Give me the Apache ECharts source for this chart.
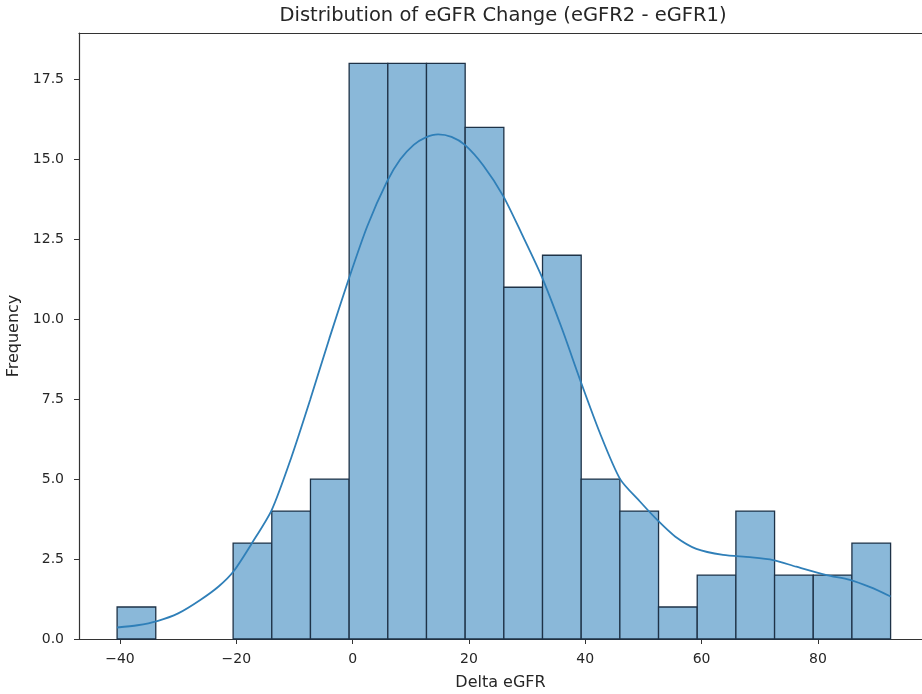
<!DOCTYPE html>
<html>
<head>
<meta charset="utf-8">
<title>Distribution of eGFR Change</title>
<script src="https://cdn.jsdelivr.net/npm/echarts@6/dist/echarts.min.js"></script>
<style>
html, body {
	margin: 0;
	padding: 0;
	background: #fff;
}
#chart {
	width: 922px;
	height: 694px;
}
</style>
</head>
<body>
<div id="chart"></div>
<script type="text/javascript">
    // bin edges and counts
    var binEdges = [-40.5, -33.85, -27.2, -20.55, -13.9, -7.25, -0.6, 6.05, 12.7, 19.35, 26.0,
                    32.65, 39.3, 45.95, 52.6, 59.25, 65.9, 72.55, 79.2, 85.85, 92.5];
    var binCounts = [1, 0, 0, 3, 4, 5, 18, 18, 18, 16, 11, 12, 5, 4, 1, 2, 4, 2, 2, 3];

    // kde curve (frequency scale)
    var kdeX = [-40.5, -37, -33.6, -30, -26.2, -23, -20.5, -17.3, -13.9, -10.5, -7.3, -4, -0.7,
                2.5, 5.9, 8.2, 10.5, 12.5, 14.7, 17, 19.3, 22.5, 25.9, 29, 32.5, 36, 39.1, 42.5,
                46, 49.4, 52.5, 55.5, 59.1, 63.7, 68.3, 72.3, 76.3, 81.5, 85.5, 89, 92.5];
    var kdeY = [0.36, 0.43, 0.56, 0.8, 1.22, 1.65, 2.11, 3.0, 4.04, 5.7, 7.48, 9.4, 11.24,
                12.9, 14.3, 15.0, 15.45, 15.68, 15.78, 15.7, 15.45, 14.8, 13.85, 12.7, 11.34, 9.7, 8.11, 6.45,
                5.0, 4.3, 3.7, 3.2, 2.82, 2.63, 2.56, 2.47, 2.26, 2.0, 1.85, 1.62, 1.33];

    var xTicks = [-40, -20, 0, 20, 40, 60, 80];
    var yTicks = [0, 2.5, 5, 7.5, 10, 12.5, 15, 17.5];

    var histData = [];
    for (var i = 0; i < binCounts.length; i++) {
        histData.push([binEdges[i], binEdges[i + 1], binCounts[i]]);
    }
    var kdeData = [];
    for (var j = 0; j < kdeX.length; j++) {
        kdeData.push([kdeX[j], kdeY[j]]);
    }

    var textColor = '#262626';
    var font = 'DejaVu Sans';

    var myChart = echarts.init(document.getElementById('chart'));

    var option = {
        animation: false,
        backgroundColor: '#fff',
        textStyle: {fontFamily: font},
        graphic: [{
            type: 'text',
            x: 503,
            y: 16,
            style: {
                text: 'Distribution of eGFR Change (eGFR2 - eGFR1)',
                align: 'center',
                verticalAlign: 'middle',
                font: '19.5px "DejaVu Sans"',
                fill: textColor
            }
        }],
        grid: {left: 79, right: 0, top: 33, bottom: 55, outerBoundsMode: 'none', containLabel: false},
        xAxis: [{
            type: 'value',
            min: -47.05,
            max: 97.9,
            name: 'Delta eGFR',
            nameLocation: 'middle',
            nameGap: 36,
            nameTextStyle: {color: textColor, fontSize: 16, fontFamily: font},
            splitLine: {show: false},
            axisLine: {show: true, onZero: false, lineStyle: {color: '#333', width: 1.2}},
            axisTick: {show: true, length: 5, customValues: xTicks, lineStyle: {color: '#333'}},
            axisLabel: {customValues: xTicks, color: textColor, fontSize: 14, margin: 13,
                formatter: function (v) { return v < 0 ? '\u2212' + Math.abs(v) : String(v); }}
        }, {
            type: 'value',
            position: 'top',
            min: -47.05,
            max: 97.9,
            splitLine: {show: false},
            axisLine: {show: true, onZero: false, lineStyle: {color: '#333', width: 1.2}},
            axisTick: {show: false},
            axisLabel: {show: false}
        }],
        yAxis: {
            type: 'value',
            min: 0,
            max: 18.95,
            name: 'Frequency',
            nameLocation: 'middle',
            nameGap: 56,
            nameTextStyle: {color: textColor, fontSize: 16, fontFamily: font},
            splitLine: {show: false},
            axisLine: {show: true, onZero: false, lineStyle: {color: '#333', width: 1.2}},
            axisTick: {show: true, length: 5, customValues: yTicks, lineStyle: {color: '#333'}},
            axisLabel: {customValues: yTicks, color: textColor, fontSize: 14, margin: 15,
                formatter: function (v) { return v.toFixed(1); }}
        },
        series: [{
            type: 'custom',
            data: histData,
            encode: {x: [0, 1], y: 2},
            renderItem: function (params, api) {
                if (api.value(2) <= 0) return null;
                var p0 = api.coord([api.value(0), 0]);
                var p1 = api.coord([api.value(1), api.value(2)]);
                return {
                    type: 'rect',
                    shape: {x: p0[0], y: p1[1], width: p1[0] - p0[0], height: p0[1] - p1[1]},
                    style: {fill: '#8ab8d9', stroke: '#1e3247', lineWidth: 1.3}
                };
            }
        }, {
            type: 'line',
            data: kdeData,
            smooth: 0.25,
            showSymbol: false,
            lineStyle: {color: '#2f7fb8', width: 1.8}
        }]
    };

    myChart.setOption(option);
</script>
</body>
</html>
